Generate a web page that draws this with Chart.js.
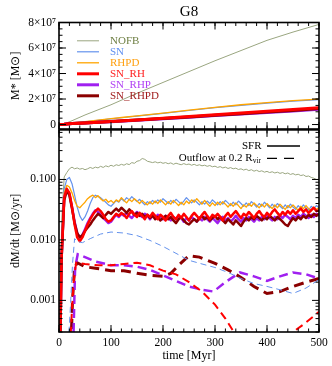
<!DOCTYPE html>
<html>
<head>
<meta charset="utf-8">
<script src="https://cdn.jsdelivr.net/npm/chart.js@4.4.0/dist/chart.umd.min.js"></script>
<style>
  html, body { margin: 0; padding: 0; background: #fff; }
  #wrap { position: relative; width: 332px; height: 366px; }
  .panel { position: absolute; left: 0; }
</style>
</head>
<body>
<div id="wrap">
  <div class="panel" style="top:120px"><canvas id="rateChart" width="332" height="246"></canvas></div>
  <div class="panel" style="top:0"><canvas id="massChart" width="332" height="142"></canvas></div>
</div>
<script>
// ---- top panel: stellar mass (units of 1e7 Msun) ----
const massTime = [0, 10, 25, 50, 75, 100, 125, 150, 200, 250, 300, 350, 400, 450, 500];
const massNOFB = [0, 0.05, 0.3, 0.75, 1.15, 1.55, 2.0, 2.45, 3.3, 4.15, 5.0, 5.8, 6.6, 7.25, 7.85];
const massSN = [0, 0.02, 0.12, 0.22, 0.33, 0.44, 0.55, 0.66, 0.88, 1.1, 1.32, 1.5, 1.68, 1.83, 1.95];
const massRHPD = [0, 0.02, 0.12, 0.23, 0.34, 0.46, 0.57, 0.68, 0.9, 1.13, 1.35, 1.55, 1.72, 1.87, 2.0];
const massSN_RH = [0, 0.02, 0.08, 0.12, 0.17, 0.23, 0.29, 0.36, 0.49, 0.63, 0.77, 0.9, 1.04, 1.18, 1.32];
const massSN_RHP = [0, 0.02, 0.08, 0.12, 0.17, 0.22, 0.28, 0.34, 0.46, 0.58, 0.7, 0.82, 0.94, 1.07, 1.2];
const massSN_RHPD = [0, 0.02, 0.08, 0.12, 0.17, 0.23, 0.29, 0.35, 0.47, 0.6, 0.73, 0.85, 0.98, 1.11, 1.25];

// ---- bottom panel: star formation rate (Msun/yr) ----
const sfrTime = [0, 5, 10, 15, 20, 25, 30, 35, 40, 45, 50, 55, 60, 65, 70, 75, 80, 85, 90, 95,
  100, 105, 110, 115, 120, 125, 130, 135, 140, 145, 150, 155, 160, 165, 170, 175, 180, 185, 190, 195,
  200, 205, 210, 215, 220, 225, 230, 235, 240, 245, 250, 255, 260, 265, 270, 275, 280, 285, 290, 295,
  300, 305, 310, 315, 320, 325, 330, 335, 340, 345, 350, 355, 360, 365, 370, 375, 380, 385, 390, 395,
  400, 405, 410, 415, 420, 425, 430, 435, 440, 445, 450, 455, 460, 465, 470, 475, 480, 485, 490, 495, 500];
const sfrNOFB = [0.00001, 0.02, 0.11, 0.13, 0.15, 0.16, 0.15, 0.155, 0.148, 0.152,
  0.145, 0.15, 0.158, 0.152, 0.16, 0.155, 0.165, 0.158, 0.168, 0.162,
  0.172, 0.165, 0.175, 0.17, 0.178, 0.172, 0.182, 0.176, 0.19, 0.185,
  0.2, 0.205, 0.222, 0.215, 0.2, 0.195, 0.19, 0.196, 0.188, 0.193,
  0.185, 0.19, 0.182, 0.188, 0.178, 0.186, 0.18, 0.175, 0.183, 0.176,
  0.18, 0.172, 0.178, 0.17, 0.175, 0.168, 0.172, 0.165, 0.17, 0.162,
  0.166, 0.158, 0.163, 0.155, 0.16, 0.152, 0.157, 0.15, 0.154, 0.146,
  0.15, 0.143, 0.148, 0.14, 0.145, 0.137, 0.142, 0.135, 0.139, 0.132,
  0.136, 0.13, 0.134, 0.128, 0.132, 0.126, 0.13, 0.124, 0.128, 0.121,
  0.125, 0.119, 0.122, 0.116, 0.119, 0.112, 0.114, 0.108, 0.105, 0.1, 0.099];
const sfrSN = [0.00001, 0.01, 0.07, 0.1, 0.108, 0.085, 0.055, 0.035, 0.025, 0.021,
  0.024, 0.03, 0.04, 0.05, 0.055, 0.052, 0.05, 0.046, 0.042, 0.038,
  0.036, 0.04, 0.045, 0.042, 0.048, 0.044, 0.05, 0.046, 0.052, 0.047,
  0.043, 0.047, 0.042, 0.038, 0.043, 0.04, 0.045, 0.041, 0.046, 0.042,
  0.048, 0.044, 0.04, 0.045, 0.041, 0.047, 0.043, 0.039, 0.044, 0.05,
  0.045, 0.041, 0.046, 0.042, 0.038, 0.043, 0.039, 0.044, 0.04, 0.046,
  0.042, 0.038, 0.043, 0.039, 0.045, 0.041, 0.037, 0.042, 0.038, 0.044,
  0.04, 0.036, 0.041, 0.037, 0.043, 0.039, 0.035, 0.04, 0.036, 0.042,
  0.038, 0.034, 0.039, 0.035, 0.04, 0.036, 0.033, 0.038, 0.034, 0.039,
  0.035, 0.032, 0.037, 0.033, 0.038, 0.034, 0.031, 0.036, 0.033, 0.037, 0.034];
const sfrRHPD = [0.00001, 0.01, 0.06, 0.08, 0.075, 0.06, 0.045, 0.036, 0.034, 0.038,
  0.042, 0.048, 0.052, 0.055, 0.05, 0.054, 0.048, 0.044, 0.047, 0.042,
  0.045, 0.041, 0.046, 0.043, 0.05, 0.045, 0.041, 0.047, 0.043, 0.048,
  0.044, 0.04, 0.045, 0.041, 0.038, 0.043, 0.039, 0.044, 0.04, 0.046,
  0.042, 0.038, 0.043, 0.039, 0.045, 0.041, 0.037, 0.042, 0.038, 0.044,
  0.04, 0.046, 0.042, 0.048, 0.043, 0.039, 0.045, 0.04, 0.036, 0.041,
  0.037, 0.042, 0.038, 0.043, 0.039, 0.035, 0.04, 0.036, 0.041, 0.037,
  0.033, 0.038, 0.035, 0.04, 0.036, 0.041, 0.037, 0.034, 0.039, 0.035,
  0.04, 0.036, 0.033, 0.038, 0.034, 0.039, 0.035, 0.032, 0.037, 0.034,
  0.038, 0.034, 0.031, 0.036, 0.033, 0.037, 0.033, 0.03, 0.035, 0.032, 0.034];
const sfrSN_RH = [0.00001, 0.005, 0.05, 0.07, 0.06, 0.035, 0.018, 0.011, 0.0095, 0.011,
  0.014, 0.018, 0.022, 0.026, 0.03, 0.033, 0.03, 0.026, 0.022, 0.02,
  0.021, 0.024, 0.027, 0.025, 0.028, 0.026, 0.023, 0.027, 0.03, 0.026,
  0.024, 0.028, 0.025, 0.022, 0.026, 0.024, 0.028, 0.025, 0.022, 0.026,
  0.024, 0.021, 0.025, 0.028, 0.024, 0.022, 0.026, 0.023, 0.027, 0.024,
  0.021, 0.025, 0.028, 0.025, 0.022, 0.026, 0.029, 0.025, 0.022, 0.026,
  0.024, 0.027, 0.024, 0.021, 0.025, 0.028, 0.024, 0.027, 0.03, 0.026,
  0.023, 0.027, 0.025, 0.029, 0.026, 0.023, 0.027, 0.03, 0.026, 0.024,
  0.028, 0.025, 0.029, 0.032, 0.028, 0.025, 0.029, 0.026, 0.03, 0.027,
  0.031, 0.027, 0.03, 0.033, 0.029, 0.032, 0.028, 0.031, 0.034, 0.03, 0.031];
const sfrSN_RHP = [0.00001, 0.005, 0.05, 0.068, 0.058, 0.035, 0.02, 0.013, 0.011, 0.012,
  0.015, 0.019, 0.023, 0.027, 0.031, 0.029, 0.026, 0.023, 0.021, 0.019,
  0.02, 0.023, 0.026, 0.024, 0.027, 0.025, 0.028, 0.025, 0.023, 0.026,
  0.029, 0.026, 0.024, 0.027, 0.025, 0.022, 0.025, 0.023, 0.026, 0.024,
  0.022, 0.025, 0.023, 0.021, 0.024, 0.022, 0.025, 0.023, 0.02, 0.023,
  0.021, 0.024, 0.022, 0.02, 0.023, 0.021, 0.024, 0.022, 0.02, 0.023,
  0.021, 0.019, 0.022, 0.024, 0.021, 0.023, 0.02, 0.022, 0.025, 0.022,
  0.02, 0.023, 0.021, 0.024, 0.022, 0.02, 0.023, 0.021, 0.024, 0.022,
  0.025, 0.023, 0.021, 0.024, 0.022, 0.025, 0.023, 0.026, 0.024, 0.022,
  0.025, 0.023, 0.026, 0.024, 0.027, 0.025, 0.023, 0.026, 0.024, 0.027, 0.025];
const sfrSN_RHPD = [0.00001, 0.005, 0.045, 0.065, 0.055, 0.033, 0.019, 0.013, 0.011, 0.012,
  0.014, 0.016, 0.018, 0.021, 0.024, 0.027, 0.025, 0.023, 0.026, 0.029,
  0.027, 0.03, 0.033, 0.03, 0.034, 0.031, 0.028, 0.032, 0.029, 0.026,
  0.028, 0.025, 0.027, 0.024, 0.026, 0.023, 0.025, 0.022, 0.024, 0.021,
  0.023, 0.025, 0.022, 0.024, 0.021, 0.019, 0.022, 0.024, 0.021, 0.019,
  0.018, 0.02, 0.022, 0.02, 0.023, 0.025, 0.022, 0.024, 0.021, 0.023,
  0.025, 0.022, 0.024, 0.021, 0.019, 0.022, 0.02, 0.018, 0.021, 0.019,
  0.017, 0.02, 0.023, 0.021, 0.024, 0.022, 0.025, 0.023, 0.021, 0.024,
  0.022, 0.025, 0.023, 0.021, 0.024, 0.022, 0.02, 0.018, 0.017, 0.02,
  0.023, 0.021, 0.024, 0.022, 0.025, 0.023, 0.026, 0.024, 0.027, 0.025, 0.027];

// ---- bottom panel: outflow rate at 0.2 Rvir (Msun/yr) ----
const outTimeSN = [18, 22, 26, 30, 35, 45, 60, 80, 100, 125, 150, 175, 200, 225, 250, 275, 300, 325, 350, 375, 400, 425, 450, 475, 500];
const outSN = [0.0002, 0.0008, 0.004, 0.0105, 0.0095, 0.009, 0.0105, 0.0125, 0.0135, 0.013, 0.0118, 0.0098, 0.0078, 0.006, 0.0046, 0.004, 0.0035, 0.0029, 0.0023, 0.0019, 0.0017, 0.0015, 0.0013, 0.0016, 0.0022];
const outTimeSN_RH = [20, 24, 28, 33, 50, 75, 100, 125, 150, 175, 200, 225, 250, 275, 300, 320, 335, 360, 400, 430, 450, 470, 490, 500];
const outSN_RH = [0.0001, 0.0005, 0.002, 0.0042, 0.004, 0.0038, 0.0038, 0.004, 0.0042, 0.0038, 0.0031, 0.0027, 0.002, 0.0014, 0.00085, 0.0005, 0.00031, 0.0002, 0.00012, 0.00018, 0.0003, 0.0004, 0.00055, 0.00065];
const outTimeSN_RHP = [28, 31, 36, 50, 70, 100, 125, 150, 175, 200, 225, 250, 275, 297, 320, 348, 375, 400, 425, 450, 475, 500];
const outSN_RHP = [0.0003, 0.0035, 0.0058, 0.0052, 0.0044, 0.0038, 0.0038, 0.0036, 0.0032, 0.0026, 0.0021, 0.0017, 0.0015, 0.0014, 0.002, 0.0029, 0.0025, 0.0021, 0.0025, 0.0029, 0.0027, 0.0023];
const outTimeSN_RHPD = [22, 26, 30, 35, 50, 70, 100, 125, 150, 175, 200, 215, 230, 250, 270, 300, 325, 350, 375, 400, 425, 450, 475, 500];
const outSN_RHPD = [0.0001, 0.001, 0.0035, 0.0042, 0.0036, 0.0034, 0.0031, 0.0031, 0.0028, 0.0026, 0.0025, 0.0028, 0.0038, 0.0055, 0.0052, 0.0041, 0.0032, 0.0024, 0.0017, 0.0013, 0.0014, 0.0017, 0.002, 0.0023];

// ---- axis ticks ----
const timeTicks = [0, 100, 200, 300, 400, 500];
const massTicks = [0, 2, 4, 6, 8];
const rateTicks = [0.001, 0.01, 0.1];

const runNames = ['NOFB', 'SN', 'RHPD', 'SN_RH', 'SN_RHP', 'SN_RHPD'];
const runColors = ['#9aa680', '#6492ec', '#ffa500', '#ff0000', '#a020f0', '#8b0000'];
const runTextColors = ['#6d7e42', '#5f8ff0', '#ffa010', '#ff2020', '#b040f4', '#a01c1c'];
const runWidths = [1, 1.2, 1.3, 3, 3, 3];
const runOrder = [6, 5, 4, 1, 3, 2];

const FONT = '"Liberation Serif", "Times New Roman", serif';
const pts = (xs, ys) => xs.map((x, i) => ({ x: x, y: ys[i] }));

// minor tick positions (axis decoration only)
const minorTime = [];
for (let t = 0; t <= 500; t += 20) minorTime.push(t);
const minorMass = [];
for (let m = 0; m <= 8; m += 0.5) minorMass.push(m);
const minorRate = [];
[0.0001, 0.001, 0.01, 0.1].forEach(d => { for (let k = 2; k <= 9; k++) minorRate.push(d * k); });

// frame with inward ticks on all four sides, IDL style
const frameTicks = {
  id: 'frameTicks',
  afterDatasetsDraw(chart, args, opts) {
    const { ctx, chartArea: a } = chart;
    const xs = chart.scales.x, ys = chart.scales.y;
    ctx.save();
    ctx.strokeStyle = '#000';
    ctx.lineWidth = 1;
    ctx.beginPath();
    const tickX = (v, len) => {
      const p = xs.getPixelForValue(v);
      if (p < a.left - 0.5 || p > a.right + 0.5) return;
      ctx.moveTo(p, a.bottom); ctx.lineTo(p, a.bottom - len);
      ctx.moveTo(p, a.top); ctx.lineTo(p, a.top + len);
    };
    const tickY = (v, len) => {
      const p = ys.getPixelForValue(v);
      if (p < a.top - 0.5 || p > a.bottom + 0.5) return;
      ctx.moveTo(a.left, p); ctx.lineTo(a.left + len, p);
      ctx.moveTo(a.right, p); ctx.lineTo(a.right - len, p);
    };
    opts.xMinor.forEach(v => tickX(v, 3.5));
    opts.xMajor.forEach(v => tickX(v, 7));
    opts.yMinor.forEach(v => tickY(v, 3.5));
    opts.yMajor.forEach(v => tickY(v, 7));
    ctx.stroke();
    ctx.lineWidth = 1.6;
    ctx.strokeRect(a.left, a.top, a.right - a.left, a.bottom - a.top);
    ctx.restore();
  }
};

// run legend in the top panel
const runLegend = {
  id: 'runLegend',
  afterDraw(chart, args, opts) {
    if (!opts.show) return;
    const ctx = chart.ctx;
    ctx.save();
    ctx.font = '11px ' + FONT;
    ctx.textBaseline = 'middle';
    runNames.forEach((name, i) => {
      const y = 40.8 + i * 11;
      ctx.strokeStyle = runColors[i];
      ctx.lineWidth = runWidths[i];
      ctx.beginPath(); ctx.moveTo(77, y); ctx.lineTo(99, y); ctx.stroke();
      ctx.fillStyle = runTextColors[i];
      ctx.fillText(name, 110, y);
    });
    ctx.restore();
  }
};

// line style legend in the bottom panel
const styleLegend = {
  id: 'styleLegend',
  afterDraw(chart, args, opts) {
    if (!opts.show) return;
    const ctx = chart.ctx;
    const y0 = 146 - 120, y1 = 158.3 - 120;
    ctx.save();
    ctx.fillStyle = '#000';
    ctx.strokeStyle = '#000';
    ctx.textBaseline = 'middle';
    ctx.textAlign = 'right';
    ctx.font = '11px ' + FONT;
    ctx.fillText('SFR', 261.5, y0);
    ctx.font = '7.5px ' + FONT;
    const subW = ctx.measureText('vir').width;
    ctx.fillText('vir', 261, y1 + 3);
    ctx.font = '11px ' + FONT;
    ctx.fillText('Outflow at 0.2 R', 261 - subW, y1);
    ctx.lineWidth = 1.3;
    ctx.beginPath(); ctx.moveTo(267, y0); ctx.lineTo(300, y0); ctx.stroke();
    ctx.setLineDash([10, 7]);
    ctx.beginPath(); ctx.moveTo(267, y1); ctx.lineTo(300, y1); ctx.stroke();
    ctx.restore();
  }
};

// ---- top chart ----
const massSeries = [massNOFB, massSN, massRHPD, massSN_RH, massSN_RHP, massSN_RHPD];
new Chart(document.getElementById('massChart'), {
  type: 'line',
  data: {
    datasets: runNames.map((name, i) => ({
      label: name,
      data: pts(massTime, massSeries[i]),
      borderColor: runColors[i],
      borderWidth: runWidths[i],
      pointRadius: 0,
      order: runOrder[i]
    }))
  },
  options: {
    responsive: false,
    animation: false,
    layout: { padding: { left: 0, right: 13, top: 0, bottom: 13 } },
    plugins: {
      legend: { display: false },
      tooltip: { enabled: false },
      title: {
        display: true, text: 'G8', color: '#000', fullSize: false,
        font: { family: FONT, size: 15, weight: 'normal' },
        padding: { top: 3, bottom: 1.5 }
      },
      frameTicks: { xMajor: timeTicks, xMinor: minorTime, yMajor: massTicks, yMinor: minorMass },
      runLegend: { show: true }
    },
    scales: {
      x: { type: 'linear', min: 0, max: 500, display: false },
      y: {
        type: 'linear', min: -0.35, max: 8,
        afterBuildTicks: s => { s.ticks = massTicks.map(v => ({ value: v })); },
        afterFit: s => { s.width = 59; },
        grid: { display: false, drawTicks: false },
        border: { display: false },
        ticks: {
          color: '#000', padding: 3, font: { family: FONT, size: 11.5 },
          callback: v => (v === 0 ? '0' : v + '×10⁷')
        },
        title: {
          display: true, text: 'M* [M⊙]', color: '#000',
          font: { family: FONT, size: 12 }, padding: { top: 9, bottom: 0 }
        }
      }
    }
  },
  plugins: [frameTicks, runLegend]
});

// ---- bottom chart ----
const sfrSeries = [sfrNOFB, sfrSN, sfrRHPD, sfrSN_RH, sfrSN_RHP, sfrSN_RHPD];
const rateSets = runNames.map((name, i) => ({
  label: name + ' SFR',
  data: pts(sfrTime, sfrSeries[i]),
  borderColor: runColors[i],
  borderWidth: i >= 3 ? 2.5 : runWidths[i],
  borderJoinStyle: 'round',
  pointRadius: 0,
  order: runOrder[i] + 4
}));
const outflows = [
  { i: 1, t: outTimeSN, v: outSN, w: 1, dash: [6, 4] },
  { i: 3, t: outTimeSN_RH, v: outSN_RH, w: 2, dash: [8, 5] },
  { i: 4, t: outTimeSN_RHP, v: outSN_RHP, w: 2.5, dash: [9, 5] },
  { i: 5, t: outTimeSN_RHPD, v: outSN_RHPD, w: 3, dash: [10, 6] }
];
outflows.forEach(o => rateSets.push({
  label: runNames[o.i] + ' outflow',
  data: pts(o.t, o.v),
  borderColor: runColors[o.i],
  borderWidth: o.w,
  borderDash: o.dash,
  pointRadius: 0,
  order: 1
}));

new Chart(document.getElementById('rateChart'), {
  type: 'line',
  data: { datasets: rateSets },
  options: {
    responsive: false,
    animation: false,
    layout: { padding: { left: 0, right: 13, top: 9, bottom: 0 } },
    plugins: {
      legend: { display: false },
      tooltip: { enabled: false },
      frameTicks: { xMajor: timeTicks, xMinor: minorTime, yMajor: rateTicks, yMinor: minorRate },
      styleLegend: { show: true }
    },
    scales: {
      x: {
        type: 'linear', min: 0, max: 500,
        afterBuildTicks: s => { s.ticks = timeTicks.map(v => ({ value: v })); },
        afterFit: s => { s.height = 34; },
        grid: { display: false, drawTicks: false },
        border: { display: false },
        ticks: { color: '#000', padding: 4, maxRotation: 0, font: { family: FONT, size: 11.5 } },
        title: {
          display: true, text: 'time [Myr]', color: '#000',
          font: { family: FONT, size: 12 }, padding: { top: 0, bottom: 2.5 }
        }
      },
      y: {
        type: 'logarithmic', min: 0.00031, max: 0.66,
        afterBuildTicks: s => { s.ticks = rateTicks.map(v => ({ value: v })); },
        afterFit: s => { s.width = 59; },
        grid: { display: false, drawTicks: false },
        border: { display: false },
        ticks: {
          color: '#000', padding: 3, font: { family: FONT, size: 11.5 },
          callback: v => Number(v).toFixed(3)
        },
        title: {
          display: true, text: 'dM/dt [M⊙/yr]', color: '#000',
          font: { family: FONT, size: 12 }, padding: { top: 9, bottom: 0 }
        }
      }
    }
  },
  plugins: [frameTicks, styleLegend]
});
</script>
</body>
</html>
